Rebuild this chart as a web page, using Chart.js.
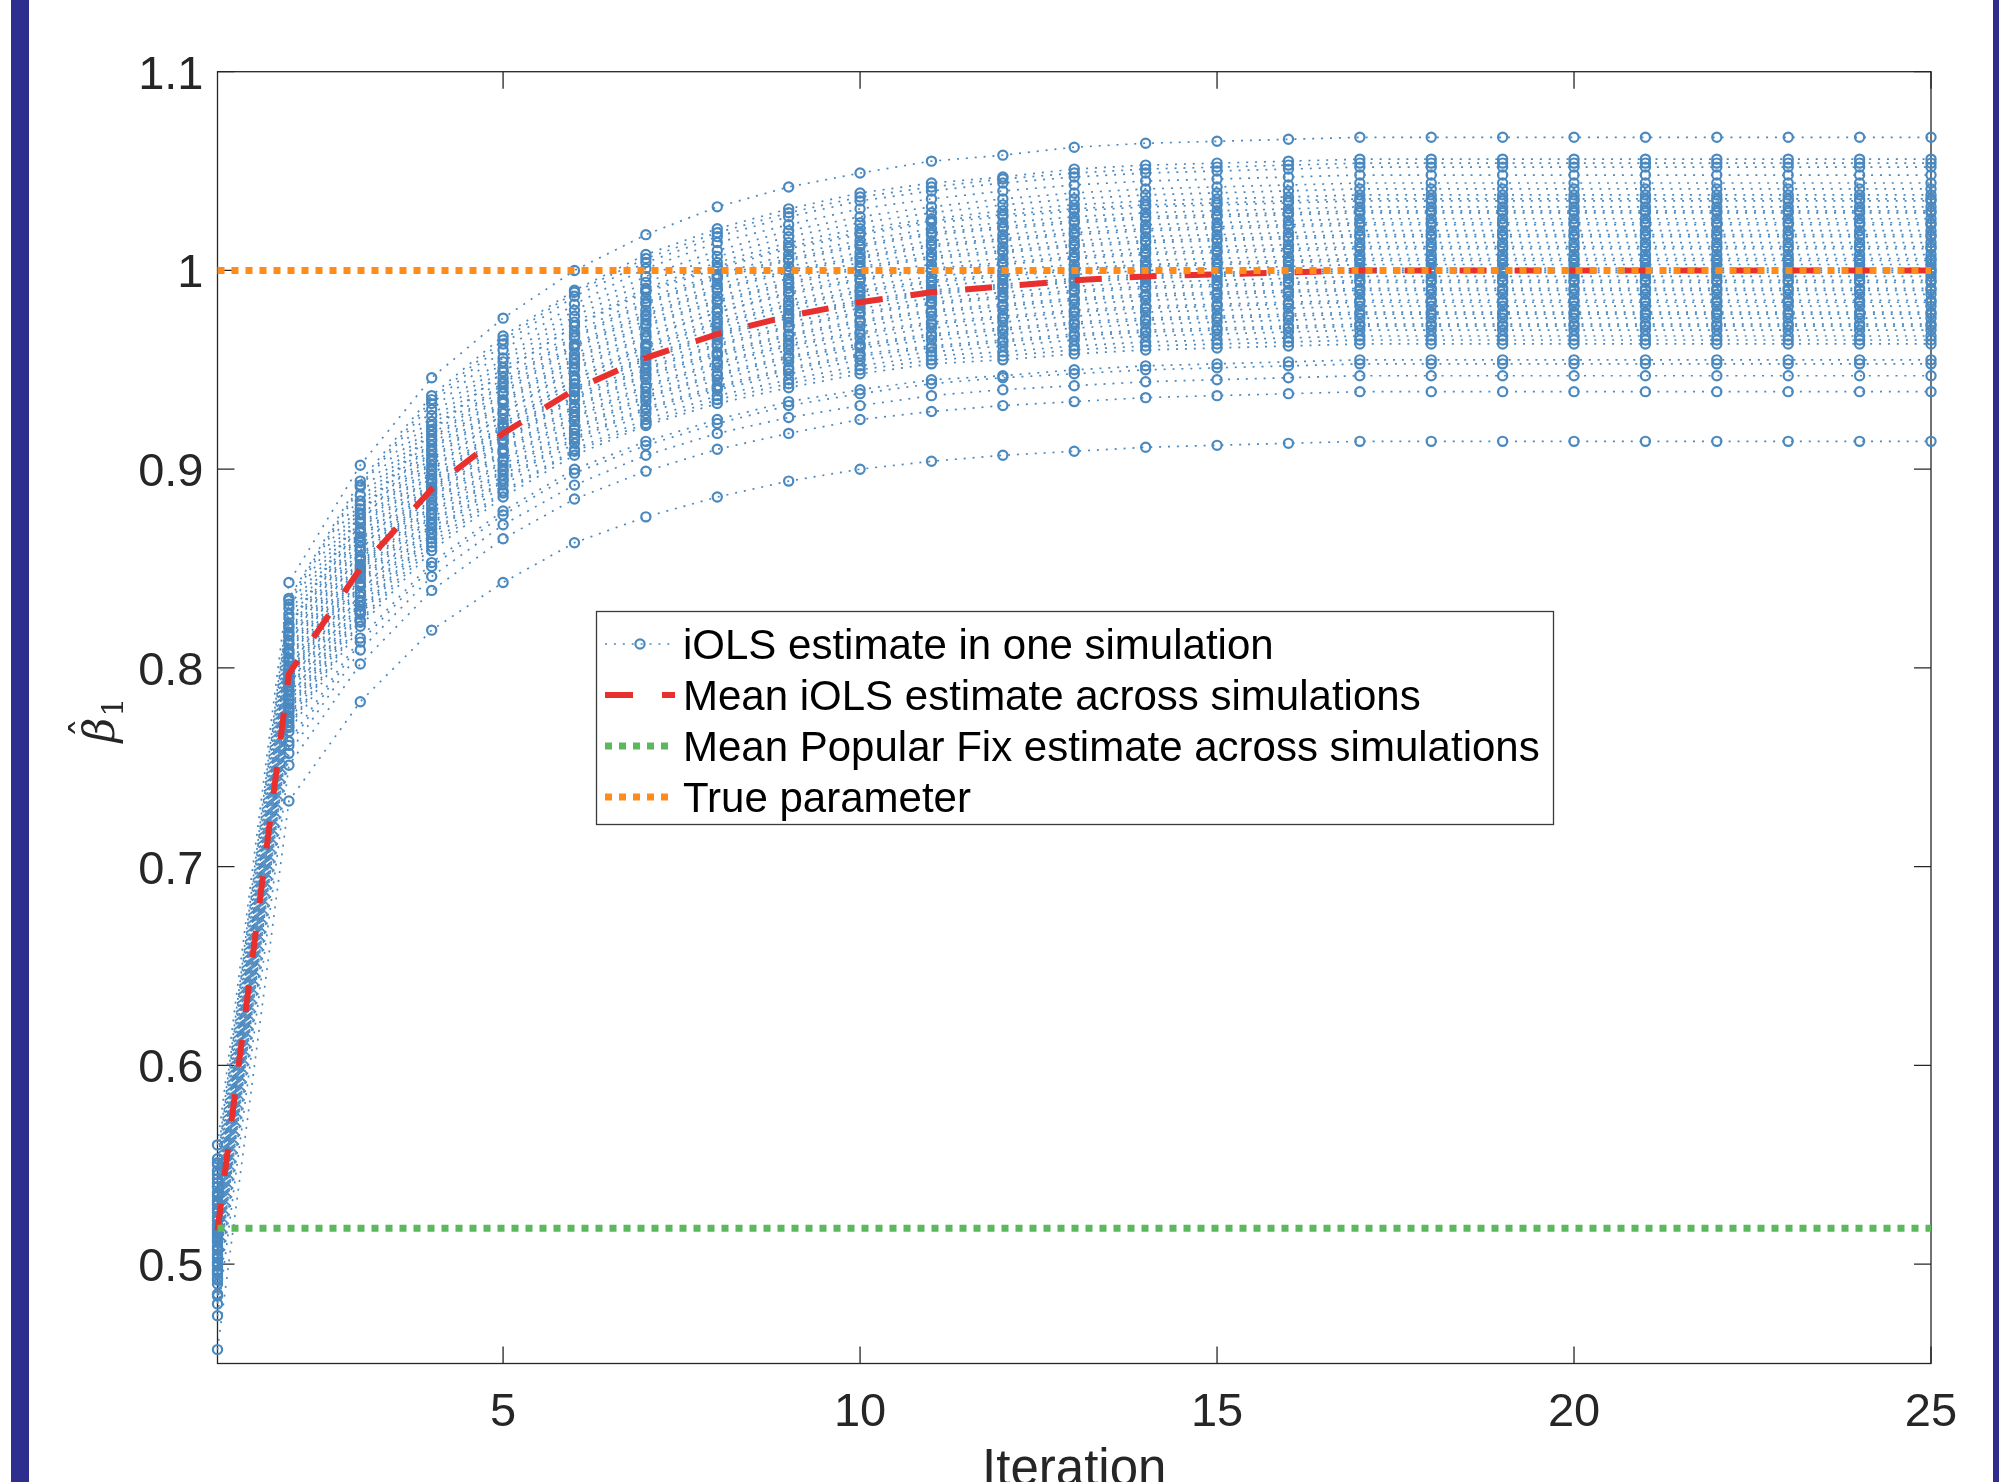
<!DOCTYPE html>
<html><head><meta charset="utf-8">
<script src="https://cdn.jsdelivr.net/npm/chart.js@4.4.1/dist/chart.umd.min.js"></script>
<style>
html,body{margin:0;padding:0;background:#fff;width:1999px;height:1482px;overflow:hidden;}
#wrap{position:relative;width:1999px;height:1482px;}
canvas{position:absolute;left:0;top:0;}
.bar{position:absolute;top:0;height:1482px;background:#2e2e8f;}
</style></head><body>
<div id="wrap"><canvas id="c" width="1999" height="1482"></canvas>
<div class="bar" style="left:11px;width:18px"></div>
<div class="bar" style="left:1993px;width:6px"></div></div>
<script>
// ---------------- data ----------------
const iterations = [1,2,3,4,5,6,7,8,9,10,11,12,13,14,15,16,17,18,19,20,21,22,23,24,25];

const sim01 = [0.560,0.843,0.902,0.946,0.976,1.000,1.018,1.032,1.042,1.049,1.055,1.058,1.062,1.064,1.065,1.066,1.067,1.067,1.067,1.067,1.067,1.067,1.067,1.067,1.067];
const sim02 = [0.553,0.835,0.894,0.937,0.967,0.990,1.008,1.021,1.031,1.039,1.044,1.047,1.051,1.053,1.054,1.055,1.056,1.056,1.056,1.056,1.056,1.056,1.056,1.056,1.056];
const sim03 = [0.551,0.834,0.892,0.935,0.965,0.989,1.006,1.019,1.029,1.037,1.042,1.046,1.049,1.051,1.052,1.053,1.054,1.054,1.054,1.054,1.054,1.054,1.054,1.054,1.054];
const sim04 = [0.550,0.832,0.891,0.933,0.963,0.987,1.004,1.017,1.027,1.035,1.040,1.044,1.047,1.049,1.050,1.051,1.052,1.052,1.052,1.052,1.052,1.052,1.052,1.052,1.052];
const sim05 = [0.547,0.830,0.887,0.930,0.960,0.983,1.001,1.014,1.023,1.031,1.036,1.040,1.043,1.045,1.046,1.047,1.048,1.048,1.048,1.048,1.048,1.048,1.048,1.048,1.048];
const sim06 = [0.545,0.827,0.884,0.927,0.956,0.980,0.997,1.010,1.020,1.027,1.032,1.036,1.039,1.041,1.042,1.043,1.044,1.044,1.044,1.044,1.044,1.044,1.044,1.044,1.044];
const sim07 = [0.543,0.825,0.882,0.924,0.954,0.977,0.994,1.007,1.017,1.024,1.029,1.033,1.036,1.038,1.039,1.040,1.041,1.041,1.041,1.041,1.041,1.041,1.041,1.041,1.041];
const sim08 = [0.541,0.822,0.880,0.922,0.951,0.974,0.991,1.004,1.014,1.021,1.026,1.030,1.033,1.035,1.036,1.037,1.038,1.038,1.038,1.038,1.038,1.038,1.038,1.038,1.038];
const sim09 = [0.539,0.821,0.878,0.920,0.949,0.972,0.990,1.002,1.012,1.019,1.025,1.028,1.031,1.033,1.034,1.035,1.036,1.036,1.036,1.036,1.036,1.036,1.036,1.036,1.036];
const sim10 = [0.539,0.820,0.877,0.919,0.949,0.972,0.989,1.001,1.011,1.018,1.024,1.027,1.030,1.032,1.033,1.034,1.035,1.035,1.035,1.035,1.035,1.035,1.035,1.035,1.035];
const sim11 = [0.536,0.818,0.875,0.917,0.946,0.969,0.986,0.998,1.008,1.015,1.021,1.024,1.027,1.029,1.030,1.031,1.032,1.032,1.032,1.032,1.032,1.032,1.032,1.032,1.032];
const sim12 = [0.535,0.817,0.873,0.915,0.944,0.967,0.984,0.997,1.006,1.013,1.019,1.022,1.025,1.027,1.028,1.029,1.030,1.030,1.030,1.030,1.030,1.030,1.030,1.030,1.030];
const sim13 = [0.534,0.816,0.873,0.914,0.943,0.966,0.983,0.996,1.005,1.012,1.018,1.021,1.024,1.026,1.027,1.028,1.029,1.029,1.029,1.029,1.029,1.029,1.029,1.029,1.029];
const sim14 = [0.532,0.814,0.870,0.912,0.941,0.963,0.980,0.993,1.002,1.009,1.015,1.018,1.021,1.023,1.024,1.025,1.026,1.026,1.026,1.026,1.026,1.026,1.026,1.026,1.026];
const sim15 = [0.531,0.812,0.869,0.910,0.939,0.962,0.978,0.991,1.000,1.007,1.013,1.016,1.019,1.021,1.022,1.023,1.024,1.024,1.024,1.024,1.024,1.024,1.024,1.024,1.024];
const sim16 = [0.530,0.812,0.868,0.909,0.938,0.961,0.977,0.990,0.999,1.006,1.012,1.015,1.018,1.020,1.021,1.022,1.023,1.023,1.023,1.023,1.023,1.023,1.023,1.023,1.023];
const sim17 = [0.528,0.809,0.866,0.907,0.935,0.958,0.975,0.987,0.996,1.004,1.009,1.012,1.015,1.017,1.018,1.019,1.020,1.020,1.020,1.020,1.020,1.020,1.020,1.020,1.020];
const sim18 = [0.527,0.808,0.864,0.905,0.934,0.956,0.973,0.985,0.994,1.002,1.007,1.010,1.013,1.015,1.016,1.017,1.018,1.018,1.018,1.018,1.018,1.018,1.018,1.018,1.018];
const sim19 = [0.526,0.807,0.863,0.904,0.933,0.955,0.972,0.984,0.993,1.001,1.006,1.009,1.012,1.014,1.015,1.016,1.017,1.017,1.017,1.017,1.017,1.017,1.017,1.017,1.017];
const sim20 = [0.524,0.805,0.861,0.902,0.930,0.953,0.969,0.981,0.991,0.998,1.003,1.006,1.009,1.011,1.012,1.013,1.014,1.014,1.014,1.014,1.014,1.014,1.014,1.014,1.014];
const sim21 = [0.523,0.804,0.859,0.900,0.928,0.951,0.967,0.979,0.989,0.996,1.001,1.004,1.007,1.009,1.010,1.011,1.012,1.012,1.012,1.012,1.012,1.012,1.012,1.012,1.012];
const sim22 = [0.522,0.803,0.859,0.899,0.928,0.950,0.966,0.979,0.988,0.995,1.000,1.003,1.006,1.008,1.009,1.010,1.011,1.011,1.011,1.011,1.011,1.011,1.011,1.011,1.011];
const sim23 = [0.520,0.801,0.856,0.897,0.925,0.947,0.963,0.976,0.985,0.992,0.997,1.000,1.003,1.005,1.006,1.007,1.008,1.008,1.008,1.008,1.008,1.008,1.008,1.008,1.008];
const sim24 = [0.519,0.799,0.855,0.895,0.923,0.945,0.962,0.974,0.983,0.990,0.995,0.998,1.001,1.003,1.004,1.005,1.006,1.006,1.006,1.006,1.006,1.006,1.006,1.006,1.006];
const sim25 = [0.518,0.799,0.854,0.894,0.922,0.945,0.961,0.973,0.982,0.989,0.994,0.997,1.000,1.002,1.003,1.004,1.005,1.005,1.005,1.005,1.005,1.005,1.005,1.005,1.005];
const sim26 = [0.517,0.797,0.852,0.893,0.921,0.943,0.959,0.971,0.980,0.987,0.992,0.995,0.998,1.000,1.001,1.002,1.003,1.003,1.003,1.003,1.003,1.003,1.003,1.003,1.003];
const sim27 = [0.516,0.796,0.851,0.891,0.919,0.941,0.957,0.969,0.978,0.985,0.990,0.993,0.996,0.998,0.999,1.000,1.001,1.001,1.001,1.001,1.001,1.001,1.001,1.001,1.001];
const sim28 = [0.515,0.795,0.850,0.890,0.918,0.940,0.956,0.968,0.977,0.984,0.989,0.992,0.995,0.997,0.998,0.999,1.000,1.000,1.000,1.000,1.000,1.000,1.000,1.000,1.000];
const sim29 = [0.514,0.794,0.849,0.889,0.917,0.939,0.955,0.967,0.976,0.983,0.988,0.991,0.994,0.996,0.997,0.998,0.999,0.999,0.999,0.999,0.999,0.999,0.999,0.999,0.999];
const sim30 = [0.513,0.793,0.848,0.888,0.915,0.937,0.953,0.965,0.974,0.981,0.986,0.989,0.992,0.994,0.995,0.996,0.997,0.997,0.997,0.997,0.997,0.997,0.997,0.997,0.997];
const sim31 = [0.512,0.791,0.846,0.886,0.914,0.936,0.951,0.963,0.972,0.979,0.984,0.987,0.990,0.992,0.993,0.994,0.995,0.995,0.995,0.995,0.995,0.995,0.995,0.995,0.995];
const sim32 = [0.511,0.791,0.845,0.885,0.913,0.935,0.950,0.962,0.971,0.978,0.983,0.986,0.989,0.991,0.992,0.993,0.994,0.994,0.994,0.994,0.994,0.994,0.994,0.994,0.994];
const sim33 = [0.509,0.789,0.843,0.883,0.910,0.932,0.948,0.959,0.968,0.975,0.980,0.983,0.986,0.988,0.989,0.990,0.991,0.991,0.991,0.991,0.991,0.991,0.991,0.991,0.991];
const sim34 = [0.508,0.788,0.842,0.882,0.909,0.931,0.947,0.958,0.967,0.974,0.979,0.982,0.985,0.987,0.988,0.989,0.990,0.990,0.990,0.990,0.990,0.990,0.990,0.990,0.990];
const sim35 = [0.507,0.786,0.841,0.880,0.908,0.929,0.945,0.957,0.965,0.972,0.977,0.980,0.983,0.985,0.986,0.987,0.988,0.988,0.988,0.988,0.988,0.988,0.988,0.988,0.988];
const sim36 = [0.505,0.784,0.838,0.878,0.905,0.927,0.942,0.954,0.963,0.969,0.974,0.977,0.980,0.982,0.983,0.984,0.985,0.985,0.985,0.985,0.985,0.985,0.985,0.985,0.985];
const sim37 = [0.504,0.784,0.838,0.877,0.904,0.926,0.941,0.953,0.962,0.968,0.973,0.976,0.979,0.981,0.982,0.983,0.984,0.984,0.984,0.984,0.984,0.984,0.984,0.984,0.984];
const sim38 = [0.503,0.782,0.836,0.875,0.902,0.924,0.939,0.951,0.960,0.966,0.971,0.974,0.977,0.979,0.980,0.981,0.982,0.982,0.982,0.982,0.982,0.982,0.982,0.982,0.982];
const sim39 = [0.501,0.780,0.834,0.873,0.900,0.921,0.937,0.948,0.957,0.963,0.968,0.971,0.974,0.976,0.977,0.978,0.979,0.979,0.979,0.979,0.979,0.979,0.979,0.979,0.979];
const sim40 = [0.500,0.779,0.833,0.872,0.899,0.920,0.936,0.947,0.956,0.962,0.967,0.970,0.973,0.975,0.976,0.977,0.978,0.978,0.978,0.978,0.978,0.978,0.978,0.978,0.978];
const sim41 = [0.499,0.778,0.831,0.870,0.897,0.918,0.934,0.945,0.954,0.961,0.965,0.968,0.971,0.973,0.974,0.975,0.976,0.976,0.976,0.976,0.976,0.976,0.976,0.976,0.976];
const sim42 = [0.497,0.776,0.829,0.868,0.895,0.916,0.931,0.942,0.951,0.958,0.962,0.965,0.968,0.970,0.971,0.972,0.973,0.973,0.973,0.973,0.973,0.973,0.973,0.973,0.973];
const sim43 = [0.496,0.775,0.828,0.867,0.894,0.915,0.930,0.941,0.950,0.957,0.961,0.964,0.967,0.969,0.970,0.971,0.972,0.972,0.972,0.972,0.972,0.972,0.972,0.972,0.972];
const sim44 = [0.495,0.773,0.827,0.865,0.892,0.913,0.928,0.940,0.948,0.955,0.959,0.962,0.965,0.967,0.968,0.969,0.970,0.970,0.970,0.970,0.970,0.970,0.970,0.970,0.970];
const sim45 = [0.493,0.771,0.824,0.863,0.889,0.910,0.925,0.937,0.945,0.952,0.957,0.959,0.962,0.964,0.965,0.966,0.967,0.967,0.967,0.967,0.967,0.967,0.967,0.967,0.967];
const sim46 = [0.492,0.770,0.823,0.861,0.888,0.909,0.923,0.935,0.943,0.950,0.955,0.957,0.960,0.962,0.963,0.964,0.965,0.965,0.965,0.965,0.965,0.965,0.965,0.965,0.965];
const sim47 = [0.490,0.768,0.821,0.859,0.886,0.907,0.922,0.933,0.941,0.948,0.953,0.955,0.958,0.960,0.961,0.962,0.963,0.963,0.963,0.963,0.963,0.963,0.963,0.963,0.963];
const sim48 = [0.485,0.763,0.815,0.853,0.879,0.900,0.914,0.925,0.934,0.940,0.945,0.947,0.950,0.952,0.953,0.954,0.955,0.955,0.955,0.955,0.955,0.955,0.955,0.955,0.955];
const sim49 = [0.484,0.761,0.813,0.851,0.877,0.898,0.912,0.923,0.932,0.938,0.943,0.946,0.948,0.950,0.951,0.952,0.953,0.953,0.953,0.953,0.953,0.953,0.953,0.953,0.953];
const sim50 = [0.480,0.757,0.809,0.846,0.872,0.892,0.907,0.918,0.926,0.932,0.937,0.940,0.942,0.944,0.945,0.946,0.947,0.947,0.947,0.947,0.947,0.947,0.947,0.947,0.947];
const sim51 = [0.474,0.751,0.802,0.839,0.865,0.885,0.899,0.910,0.918,0.925,0.929,0.932,0.934,0.936,0.937,0.938,0.939,0.939,0.939,0.939,0.939,0.939,0.939,0.939,0.939];
const sim52 = [0.457,0.733,0.783,0.819,0.843,0.863,0.876,0.886,0.894,0.900,0.904,0.907,0.909,0.911,0.912,0.913,0.914,0.914,0.914,0.914,0.914,0.914,0.914,0.914,0.914];

const meanIols = [0.517,0.797,0.850,0.890,0.918,0.940,0.956,0.968,0.977,0.984,0.989,0.992,0.995,0.997,0.998,0.999,1.000,1.000,1.000,1.000,1.000,1.000,1.000,1.000,1.000];
const popularFixMean = 0.518;
const trueParameter = 1.0;

const xTicks = [5,10,15,20,25];
const yTicks = [0.5,0.6,0.7,0.8,0.9,1.0,1.1];
const yTickLabels = ['0.5','0.6','0.7','0.8','0.9','1','1.1'];
const legendLabels = ['iOLS estimate in one simulation','Mean iOLS estimate across simulations','Mean Popular Fix estimate across simulations','True parameter'];
const xTitle = 'Iteration';

// ---------------- styling ----------------
const BLUE = '#4a89c0', RED = '#e8312f', GREEN = '#5cb85c', ORANGE = '#ff8c1a', AXIS = '#262626';
const FONT = '"Liberation Sans", Arial, Helvetica, sans-serif';

const simRuns = [sim01,sim02,sim03,sim04,sim05,sim06,sim07,sim08,sim09,sim10,sim11,sim12,sim13,sim14,sim15,sim16,sim17,sim18,sim19,sim20,sim21,sim22,sim23,sim24,sim25,sim26,sim27,sim28,sim29,sim30,sim31,sim32,sim33,sim34,sim35,sim36,sim37,sim38,sim39,sim40,sim41,sim42,sim43,sim44,sim45,sim46,sim47,sim48,sim49,sim50,sim51,sim52];
const pts = arr => iterations.map((x,i)=>({x:x, y:arr[i]}));

const datasets = [];
datasets.push({label:legendLabels[3], data: iterations.map(x=>({x:x,y:trueParameter})), borderColor:ORANGE, borderWidth:7, borderDash:[7,7], pointRadius:0, order:0, clip:false});
datasets.push({label:legendLabels[2], data: iterations.map(x=>({x:x,y:popularFixMean})), borderColor:GREEN, borderWidth:7, borderDash:[7,7], pointRadius:0, order:1, clip:false});
datasets.push({label:legendLabels[1], data: pts(meanIols), borderColor:RED, borderWidth:6, borderDash:[27,28], pointRadius:0, order:2, clip:false});
simRuns.forEach((s,k)=>{
  datasets.push({label: k===0 ? legendLabels[0] : '', data: pts(s), borderColor:BLUE, borderWidth:1.7, borderDash:[2,6.9],
    pointRadius:4.6, pointBorderWidth:2.2, pointBorderColor:BLUE, pointBackgroundColor:'rgba(0,0,0,0)', order:3, clip:false});
});

const frame = {
  id:'frame',
  beforeDatasetsDraw(chart){
    const {ctx, chartArea:a, scales} = chart;
    ctx.save();
    ctx.strokeStyle = AXIS; ctx.lineWidth = 1.3;
    ctx.strokeRect(a.left, a.top, a.right-a.left, a.bottom-a.top);
    const TL = 17;
    ctx.beginPath();
    xTicks.forEach(v=>{const p = scales.x.getPixelForValue(v);
      ctx.moveTo(p, a.bottom); ctx.lineTo(p, a.bottom-TL);
      ctx.moveTo(p, a.top); ctx.lineTo(p, a.top+TL);});
    yTicks.forEach(v=>{const p = scales.y.getPixelForValue(v);
      ctx.moveTo(a.left, p); ctx.lineTo(a.left+TL, p);
      ctx.moveTo(a.right, p); ctx.lineTo(a.right-TL, p);});
    ctx.stroke();
    ctx.restore();
  },
  afterDraw(chart){
    const {ctx, chartArea:a} = chart;
    ctx.save();
    // x title
    ctx.fillStyle = AXIS; ctx.font = '51px ' + FONT; ctx.textAlign='center'; ctx.textBaseline='alphabetic';
    ctx.fillText(xTitle, (a.left+a.right)/2, 1485);
    // y title: beta hat sub 1
    ctx.translate(114, (a.top+a.bottom)/2 + 1);
    ctx.rotate(-Math.PI/2);
    ctx.textAlign='left';
    ctx.font = 'italic 43px "DejaVu Serif", "Liberation Serif", serif';
    ctx.fillText('\u03B2', -24, 0);
    const bw = ctx.measureText('\u03B2').width;
    ctx.textAlign='center';
    ctx.font = '40px "DejaVu Serif", "Liberation Serif", serif';
    ctx.fillText('\u02C6', -24 + bw*0.6, -15);
    ctx.textAlign='left';
    ctx.font = '30px "DejaVu Serif", "Liberation Serif", serif';
    ctx.fillText('1', -24 + bw + 1, 9);
    ctx.restore();

    // legend
    ctx.save();
    const L = 596.5, T = 611.5, W = 957, H = 213;
    ctx.fillStyle = '#fff'; ctx.fillRect(L, T, W, H);
    ctx.strokeStyle = '#3a3a3a'; ctx.lineWidth = 1.3; ctx.strokeRect(L, T, W, H);
    const rows = [644, 695, 746, 797];
    const x0 = 605, x1 = 675;
    // row 1 : blue dotted + circle
    ctx.strokeStyle = BLUE; ctx.lineWidth = 1.7; ctx.setLineDash([2,6.9]);
    ctx.beginPath(); ctx.moveTo(x0, rows[0]); ctx.lineTo(x1, rows[0]); ctx.stroke();
    ctx.setLineDash([]); ctx.lineWidth = 2.2;
    ctx.beginPath(); ctx.arc((x0+x1)/2, rows[0], 4.6, 0, Math.PI*2); ctx.stroke();
    // row 2 : red dashed
    ctx.strokeStyle = RED; ctx.lineWidth = 6; ctx.setLineDash([28,29]);
    ctx.beginPath(); ctx.moveTo(x0, rows[1]); ctx.lineTo(x1, rows[1]); ctx.stroke();
    // row 3 : green dotted
    ctx.strokeStyle = GREEN; ctx.lineWidth = 7; ctx.setLineDash([7,7]);
    ctx.beginPath(); ctx.moveTo(x0, rows[2]); ctx.lineTo(x1-2, rows[2]); ctx.stroke();
    // row 4 : orange dotted
    ctx.strokeStyle = ORANGE;
    ctx.beginPath(); ctx.moveTo(x0, rows[3]); ctx.lineTo(x1-2, rows[3]); ctx.stroke();
    ctx.setLineDash([]);
    ctx.fillStyle = '#000'; ctx.font = '42px ' + FONT; ctx.textAlign='left'; ctx.textBaseline='middle';
    legendLabels.forEach((t,i)=>ctx.fillText(t, 683, rows[i] + 3));
    ctx.restore();
  }
};

new Chart(document.getElementById('c'), {
  type:'line',
  data:{datasets:datasets},
  options:{
    responsive:false, animation:false, events:[],
    layout:{padding:{left:0, top:71.7, right:68, bottom:0}},
    elements:{line:{tension:0}},
    plugins:{legend:{display:false}, tooltip:{enabled:false}},
    scales:{
      x:{type:'linear', min:1, max:25,
        grid:{display:false, drawTicks:false}, border:{display:false},
        afterBuildTicks:s=>{s.ticks = xTicks.map(v=>({value:v}));},
        afterFit:s=>{s.height = 118.5;},
        ticks:{font:{family:FONT, size:47}, color:AXIS, padding:21, maxRotation:0, autoSkip:false, callback:v=>String(v)}},
      y:{type:'linear', min:0.45, max:1.1,
        grid:{display:false, drawTicks:false}, border:{display:false},
        afterBuildTicks:s=>{s.ticks = yTicks.map(v=>({value:v}));},
        afterFit:s=>{s.width = 217.5;},
        ticks:{font:{family:FONT, size:47}, color:AXIS, padding:14, labelOffset:4, autoSkip:false,
          callback:v=>yTickLabels[yTicks.findIndex(t=>Math.abs(t-v)<1e-9)]}}
    }
  },
  plugins:[frame]
});
</script>
</body></html>
